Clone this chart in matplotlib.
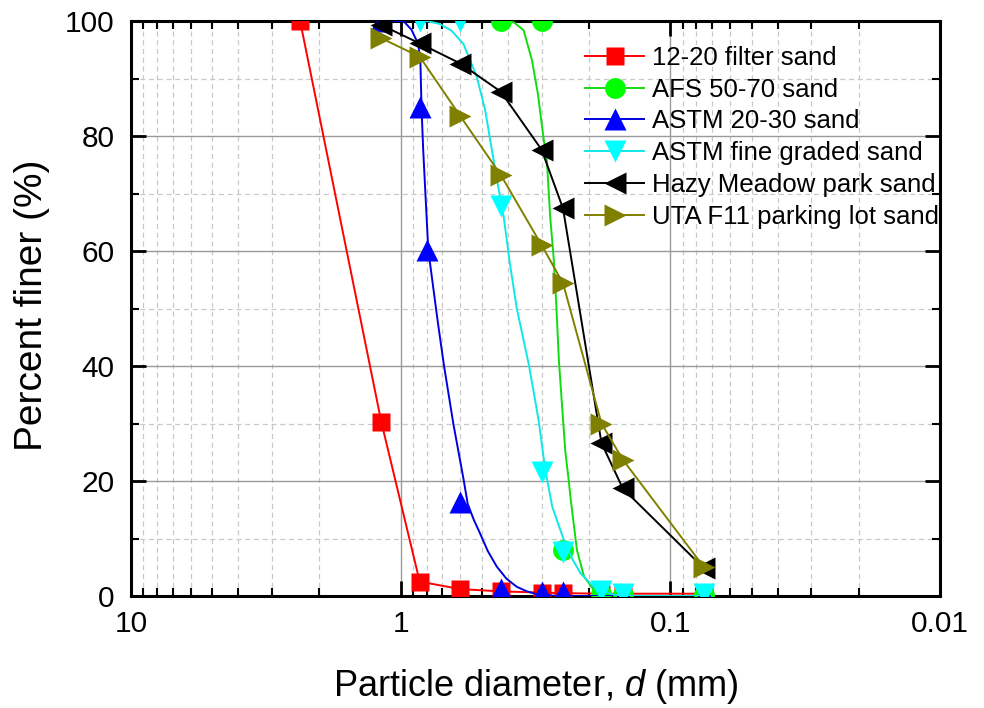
import matplotlib
matplotlib.use("Agg")
import matplotlib.pyplot as plt
from matplotlib.lines import Line2D
from matplotlib.ticker import LogLocator, FuncFormatter, MultipleLocator, NullFormatter

plt.rcParams["font.family"] = ["Liberation Sans", "DejaVu Sans"]
plt.rcParams["mathtext.fontset"] = "custom"
plt.rcParams["mathtext.rm"] = "Liberation Sans"
plt.rcParams["mathtext.it"] = "Liberation Sans:italic"

# ---------------------------------------------------------------------------
# Sieve data (diameter in mm, percent finer)
# ---------------------------------------------------------------------------
labels = ["12-20 filter sand", "AFS 50-70 sand", "ASTM 20-30 sand",
          "ASTM fine graded sand", "Hazy Meadow park sand", "UTA F11 parking lot sand"]

filter_d = [2.36, 1.18, 0.85, 0.6, 0.425, 0.3, 0.25, 0.18, 0.15, 0.075]
filter_p = [100, 30.3, 2.5, 1.2, 0.8, 0.6, 0.5, 0.4, 0.4, 0.4]

afs_d = [0.425, 0.3, 0.25, 0.18, 0.15, 0.075]
afs_p = [100, 100, 8.0, 0.3, 0.2, 0.1]

astm2030_d = [1.18, 0.85, 0.8, 0.6, 0.425, 0.3, 0.25, 0.15, 0.075]
astm2030_p = [100, 85, 60.2, 16.3, 1.2, 0.7, 0.7, 0.4, 0.4]

astmfine_d = [0.85, 0.6, 0.425, 0.3, 0.25, 0.18, 0.15, 0.075]
astmfine_p = [100, 100, 67.8, 21.6, 7.7, 0.8, 0.4, 0.3]

hazy_d = [1.18, 0.85, 0.6, 0.425, 0.3, 0.25, 0.18, 0.15, 0.075]
hazy_p = [99.3, 96.1, 92.6, 87.7, 77.6, 67.4, 26.6, 18.7, 4.8]

uta_d = [1.18, 0.85, 0.6, 0.425, 0.3, 0.25, 0.18, 0.15, 0.075]
uta_p = [97, 93.8, 83.4, 73.2, 61, 54.4, 30, 23.7, 5]

# fitted gradation curves
afs_fit_d = [0.425, 0.381, 0.350, 0.326, 0.310, 0.295, 0.287, 0.279, 0.271, 0.265,
             0.259, 0.252, 0.245, 0.238, 0.234, 0.222, 0.209, 0.192, 0.171, 0.144, 0.075]
afs_fit_p = [100, 99.8, 98.4, 93.2, 87.4, 79.5, 75.8, 66, 59, 51,
             41, 33, 25, 20, 16.7, 8, 3.4, 1, 0.2, 0, 0]

astm2030_fit_d = [1.18, 0.977, 0.912, 0.861, 0.845, 0.837, 0.825, 0.790, 0.730, 0.692,
                  0.638, 0.584, 0.564, 0.535, 0.509, 0.475, 0.440, 0.405, 0.371, 0.340,
                  0.312, 0.263, 0.075]
astm2030_fit_p = [100, 100, 98.5, 96, 93, 85, 77.6, 60.2, 48, 40.3,
                  30, 20.2, 16, 13.2, 11, 7.8, 5.1, 3.0, 1.6, 0.8,
                  0.3, 0, 0]

astmfine_fit_d = [0.85, 0.802, 0.718, 0.647, 0.585, 0.522, 0.486, 0.459, 0.436, 0.415, 0.394,
                  0.371, 0.352, 0.334, 0.308, 0.291, 0.274, 0.248, 0.230, 0.215, 0.192,
                  0.162, 0.132, 0.075]
astmfine_fit_p = [100, 100, 99.5, 98.3, 96, 90.3, 84.5, 77.6, 71.5, 66, 58,
                  50, 45, 40, 30.6, 22, 15.5, 9.7, 6.3, 3.9, 1.6,
                  0.2, 0, 0]

# ---------------------------------------------------------------------------
# Figure
# ---------------------------------------------------------------------------
fig = plt.figure(figsize=(9.84, 7.08), dpi=100)
ax = fig.add_axes([131 / 984, 1 - 596 / 708, 809 / 984, 575 / 708])

lw = 1.4
ms_sq, ms_ci, ms_tri = 12.6, 15.0, 16.0

# 12-20 filter sand
ax.plot(filter_d, filter_p, color="#FF0000", lw=lw, marker="s", ms=ms_sq, mec="none", zorder=3)
# AFS 50-70 sand
ax.plot(afs_fit_d, afs_fit_p, color="#10DD10", lw=lw, zorder=3)
ax.plot(afs_d, afs_p, ls="none", color="#00FF00", marker="o", ms=ms_ci, mec="none", zorder=3)
# ASTM 20-30 sand
ax.plot(astm2030_fit_d, astm2030_fit_p, color="#0000E0", lw=lw, zorder=3)
ax.plot(astm2030_d, astm2030_p, ls="none", color="#0000FF", marker="^", ms=ms_tri, mec="none", zorder=3)
# ASTM fine graded sand
ax.plot(astmfine_fit_d, astmfine_fit_p, color="#10E8E8", lw=lw, zorder=3)
ax.plot(astmfine_d, astmfine_p, ls="none", color="#00FFFF", marker="v", ms=ms_tri, mec="none", zorder=3)
# Hazy Meadow park sand
ax.plot(hazy_d, hazy_p, color="black", lw=lw, marker="<", ms=ms_tri, mec="none", zorder=3)
# UTA F11 parking lot sand
ax.plot(uta_d, uta_p, color="#808000", lw=lw, marker=">", ms=ms_tri, mec="none", zorder=3)

# axes setup
ax.set_xscale("log")
ax.set_xlim(10, 0.01)
ax.set_ylim(0, 100)

ax.xaxis.set_major_locator(LogLocator(base=10))
ax.xaxis.set_minor_locator(LogLocator(base=10, subs=range(2, 10)))
ax.xaxis.set_major_formatter(FuncFormatter(lambda v, p: "%g" % v))
ax.xaxis.set_minor_formatter(NullFormatter())
ax.yaxis.set_major_locator(MultipleLocator(20))
ax.yaxis.set_minor_locator(MultipleLocator(10))

ax.tick_params(which="both", direction="in", top=True, right=True, labelsize=21.5)
ax.tick_params(which="major", length=10.5, width=2.0)
ax.tick_params(which="minor", length=5.5, width=1.5)
ax.tick_params(axis="y", pad=12)
ax.tick_params(axis="x", pad=10)
for sp in ax.spines.values():
    sp.set_linewidth(2.2)

ax.set_axisbelow(True)
ax.grid(which="major", color="#9a9a9a", lw=1.0, ls="-")
ax.grid(which="minor", color="#c8c8c8", lw=0.9, ls=(0, (4, 3)))

ax.set_xlabel("Particle diameter, $d$ (mm)", fontsize=26, va="center")
ax.set_ylabel("Percent finer (%)", fontsize=28, va="center")
ax.xaxis.set_label_coords(0.5, (596 - 687) / 575)
ax.yaxis.set_label_coords((32 - 131) / 809, 0.506)

# legend
handles = [
    Line2D([], [], color="#FF0000", lw=lw, marker="s", ms=ms_sq, mec="none"),
    Line2D([], [], color="#10DD10", lw=lw, marker="o", ms=ms_ci, mfc="#00FF00", mec="none"),
    Line2D([], [], color="#0000E0", lw=lw, marker="^", ms=ms_tri, mfc="#0000FF", mec="none"),
    Line2D([], [], color="#10E8E8", lw=lw, marker="v", ms=ms_tri, mfc="#00FFFF", mec="none"),
    Line2D([], [], color="black", lw=lw, marker="<", ms=ms_tri, mec="none"),
    Line2D([], [], color="#808000", lw=lw, marker=">", ms=ms_tri, mec="none"),
]
ax.legend(handles, labels, loc="upper left", bbox_to_anchor=((585 - 131) / 809, (596 - 46) / 575),
          frameon=False, fontsize=18.5, borderpad=0, borderaxespad=0,
          handlelength=2.3, handletextpad=0.3, labelspacing=0.3)

fig.savefig("out.png", dpi=100, facecolor="white")
